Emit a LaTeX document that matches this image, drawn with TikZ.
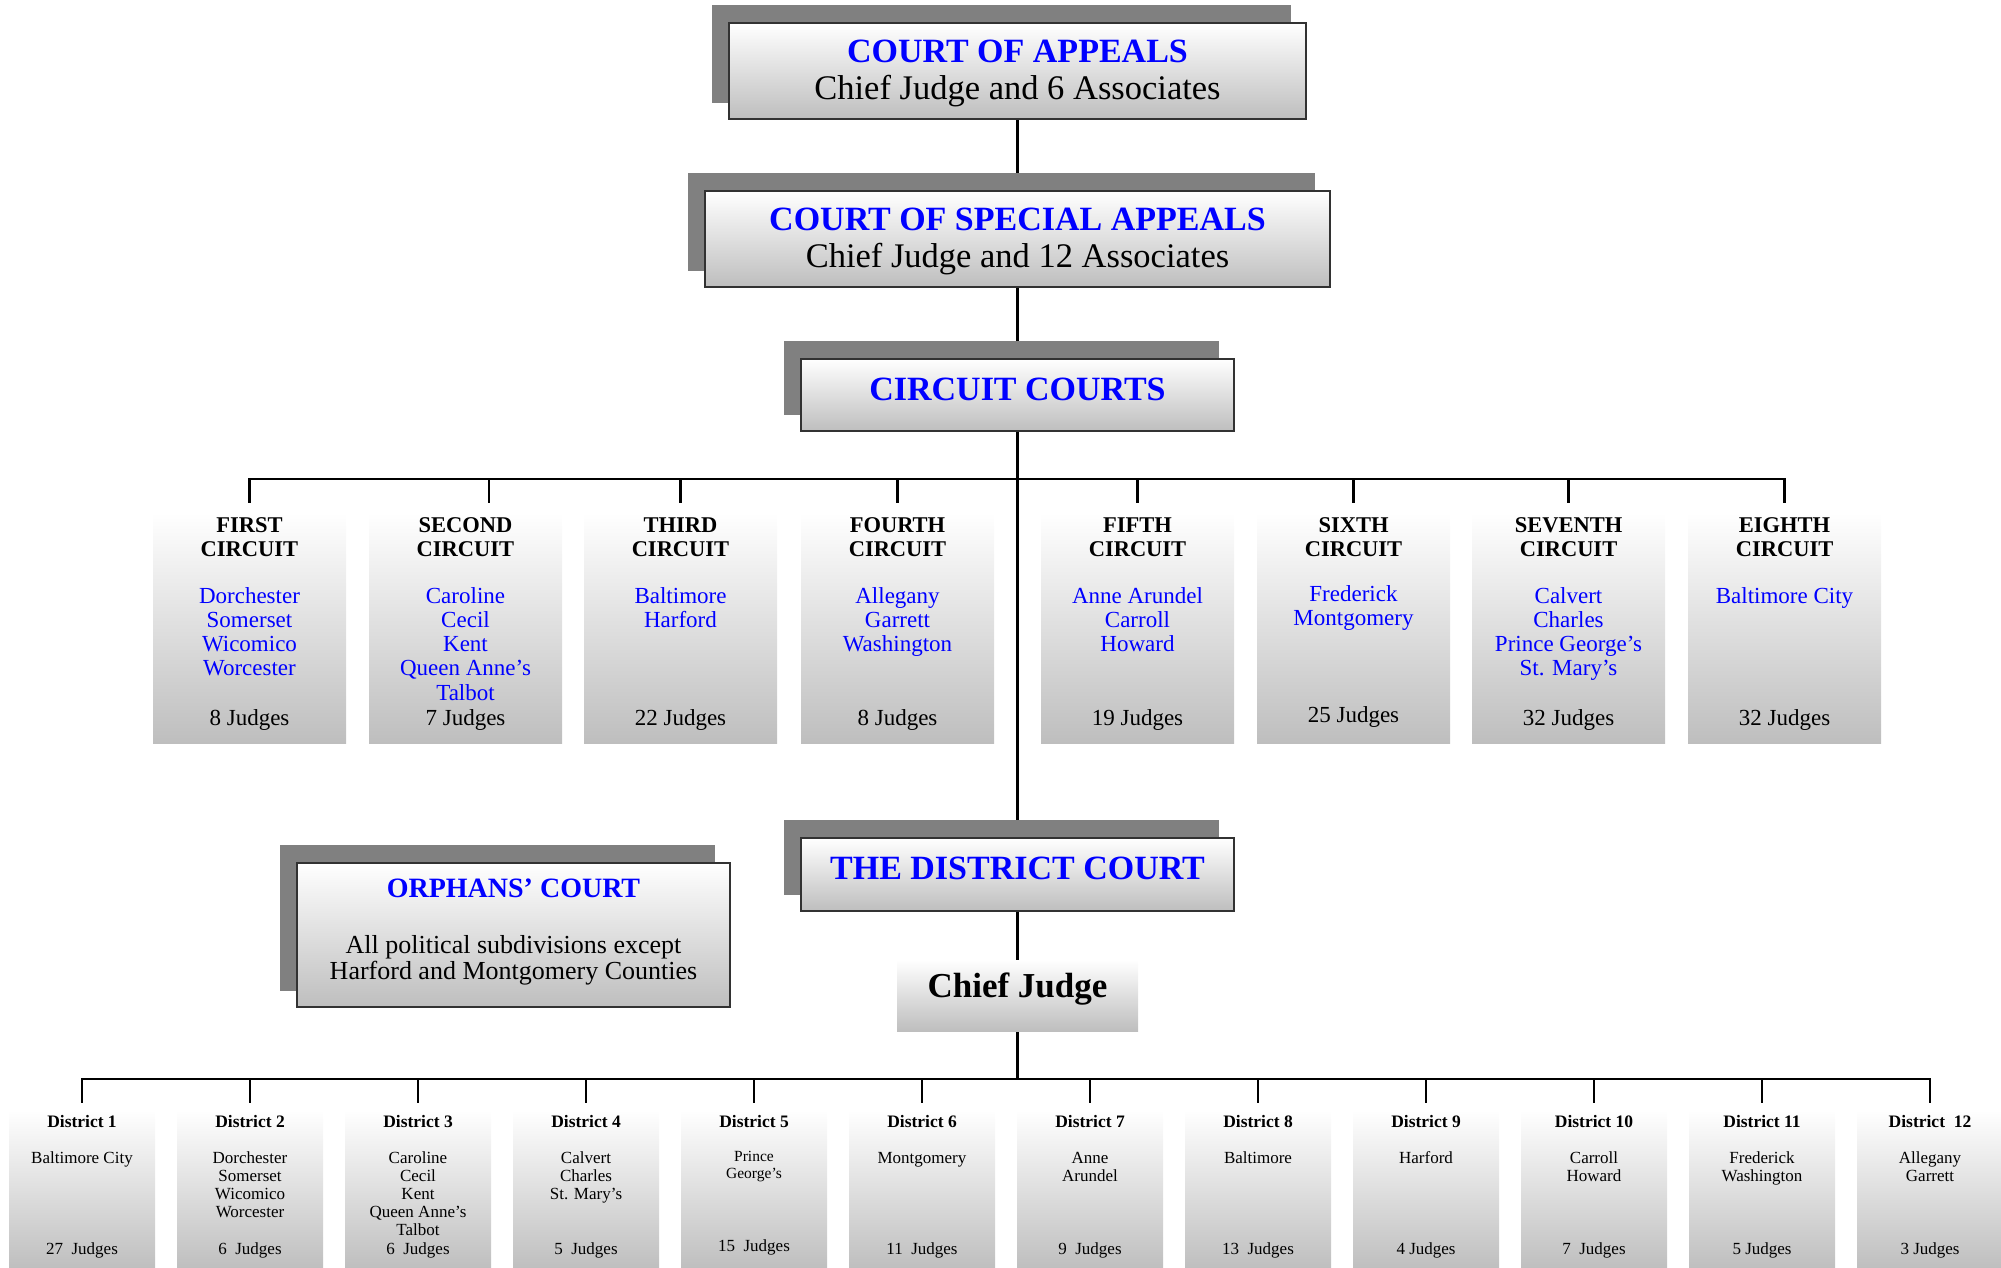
\documentclass[tikz,border=0pt]{standalone}
\usepackage{fontspec}
\setmainfont{Liberation Serif}
\usetikzlibrary{calc}
\pgfdeclarelayer{linelayer}
\pgfdeclarelayer{shadowlayer}
\pgfsetlayers{linelayer,shadowlayer,main}
\definecolor{shadowgray}{RGB}{128,128,128}
\definecolor{boxbot}{RGB}{190,190,190}
\definecolor{ttlblue}{RGB}{0,0,255}
\definecolor{edgec}{RGB}{50,50,50}
\tikzset{
 grad/.style={top color=white, bottom color=boxbot, inner sep=0pt},
 courtbox/.style={grad, draw=edgec, line width=1.6pt},
 link/.style={line width=2.4pt, draw=black},
 lbl/.style={inner sep=0pt, anchor=base, align=center},
 ttl/.style={lbl, text=ttlblue, font=\bfseries\fontsize{34}{37}\selectfont},
 subttl/.style={lbl, font=\fontsize{34.5}{37}\selectfont},
 chead/.style={lbl, font=\bfseries\fontsize{22.5}{24}\selectfont},
 ccty/.style={lbl, text=ttlblue, font=\fontsize{23}{24.3}\selectfont},
 cjdg/.style={lbl, font=\fontsize{23}{24.3}\selectfont},
 dhead/.style={lbl, font=\bfseries\fontsize{17.5}{18}\selectfont},
 dtxt/.style={lbl, font=\fontsize{17}{18}\selectfont},
}
\begin{document}
\begin{tikzpicture}[x=1pt,y=-1pt]
\useasboundingbox (0,0) rectangle (2001,1267);

% upper courts
\node[courtbox, minimum width=577pt, minimum height=96pt] (coa) at (1017.5,71) {};
\node[ttl] (coat) at (1017.5,62) {COURT OF APPEALS};
\node[subttl] (coas) at (1017.5,99) {Chief Judge and 6 Associates};

\node[courtbox, minimum width=625pt, minimum height=96pt] (csa) at (1017.5,239) {};
\node[ttl] (csat) at (1017.5,230) {COURT OF SPECIAL APPEALS};
\node[subttl] (csas) at (1017.5,267) {Chief Judge and 12 Associates};

\node[courtbox, minimum width=433pt, minimum height=72pt] (cc) at (1017.5,395) {};
\node[ttl] (cct) at (1017.5,400) {CIRCUIT COURTS};

\node[courtbox, minimum width=433pt, minimum height=73pt] (dc) at (1017.5,874.5) {};
\node[ttl] (dct) at (1017.5,879) {THE DISTRICT COURT};

\node[grad, minimum width=241pt, minimum height=71pt] (cj) at (1017.5,995.5) {};
\node[lbl, font=\bfseries\fontsize{35}{37}\selectfont] (cjt) at (1017.5,997) {Chief Judge};

\node[courtbox, minimum width=433pt, minimum height=144pt] (oc) at (513.5,935) {};
\node[lbl, text=ttlblue, font=\bfseries\fontsize{28}{30}\selectfont] (oct) at (513.5,897) {ORPHANS' COURT};
\node[lbl, font=\fontsize{26}{26}\selectfont] (ocs) at (513.5,979) {All political subdivisions except\\Harford and Montgomery Counties};

% circuits (y values are baselines of the last line)
\foreach \i/\cx/\hd/\ct/\jd/\cy/\jy in {
 1/249.5/FIRST/{Dorchester\\Somerset\\Wicomico\\Worcester}/8 Judges/675.9/725,
 2/465.5/SECOND/{Caroline\\Cecil\\Kent\\Queen Anne's\\Talbot}/7 Judges/700.2/725,
 3/680.5/THIRD/{Baltimore\\Harford}/22 Judges/627.3/725,
 4/897.5/FOURTH/{Allegany\\Garrett\\Washington}/8 Judges/651.6/725,
 5/1137.5/FIFTH/{Anne Arundel\\Carroll\\Howard}/19 Judges/651.6/725,
 6/1353.5/SIXTH/{Frederick\\Montgomery}/25 Judges/625.3/722.5,
 7/1568.5/SEVENTH/{Calvert\\Charles\\Prince George's\\St. Mary's}/32 Judges/675.9/725,
 8/1784.5/EIGHTH/{Baltimore City}/32 Judges/603/725}
{
 \node[grad, minimum width=193pt, minimum height=230pt] (c\i) at (\cx,628) {};
 \node[chead] (c\i-h) at (\cx,556) {\hd\\CIRCUIT};
 \node[ccty] (c\i-c) at (\cx,\cy) {\ct};
 \node[cjdg] (c\i-j) at (\cx,\jy) {\jd};
}

% districts (y values are baselines of the last line)
\foreach \i/\hd/\ct/\jd/\fs/\ls/\cy/\jy in {
 1/District 1/{Baltimore City}/27\ \ Judges/17/18/1163/1254,
 2/District 2/{Dorchester\\Somerset\\Wicomico\\Worcester}/6\ \ Judges/17/18/1217/1254,
 3/District 3/{Caroline\\Cecil\\Kent\\Queen Anne's\\Talbot}/6\ \ Judges/17/18/1235/1254,
 4/District 4/{Calvert\\Charles\\St. Mary's}/5\ \ Judges/17/18/1199/1254,
 5/District 5/{Prince\\George's}/15\ \ Judges/15.5/17/1178/1251,
 6/District 6/{Montgomery}/11\ \ Judges/17/18/1163/1254,
 7/District 7/{Anne\\Arundel}/9\ \ Judges/17/18/1181/1254,
 8/District 8/{Baltimore}/13\ \ Judges/17/18/1163/1254,
 9/District 9/{Harford}/4 Judges/17/18/1163/1254,
 10/District 10/{Carroll\\Howard}/7\ \ Judges/17/18/1181/1254,
 11/District 11/{Frederick\\Washington}/5 Judges/17/18/1181/1254,
 12/District\ \ 12/{Allegany\\Garrett}/3 Judges/17/18/1181/1254}
{
 \pgfmathsetmacro\dx{82+168*(\i-1)}
 \node[grad, minimum width=146pt, minimum height=160pt] (d\i) at (\dx,1190) {};
 \node[dhead] (d\i-h) at (\dx,1127) {\hd};
 \node[lbl, font=\fontsize{\fs}{\ls}\selectfont] (d\i-c) at (\dx,\cy) {\ct};
 \node[dtxt] (d\i-j) at (\dx,\jy) {\jd};
}

\coordinate (cbusR) at (1784.5,479);
\coordinate (c2tick) at (489,503);
\coordinate (dbusR) at (1930,1079);

\begin{pgfonlayer}{shadowlayer}
\foreach \nd in {coa,csa,cc,dc,oc}
  \fill[shadowgray] ([shift={(-16,-17)}]\nd.north west) rectangle ([shift={(-16,-17)}]\nd.south east);
\end{pgfonlayer}

\begin{pgfonlayer}{linelayer}
\draw[link] (coa.south) -- (csa.north);
\draw[link] (csa.south) -- (cc.north);
\draw[link] (cc.south) -- (dc.north);
\draw[link] (dc.south) -- (cj.north);
\draw[link] (cj.south) -- (cj.south |- dbusR);
% circuit bus
\draw[link] ([yshift=10pt]c1.north) |- (cbusR) -- ([yshift=10pt]c8.north);
\draw[link] (c2tick |- cbusR) -- (c2tick);
\foreach \i in {3,4,5,6,7}
  \draw[link] (c\i.north |- cbusR) -- ([yshift=10pt]c\i.north);
% district bus
\draw[link] ([yshift=7pt]d1.north) |- (dbusR) -- ([yshift=7pt]d12.north);
\foreach \i in {2,...,11}
  \draw[link] (d\i.north |- dbusR) -- ([yshift=7pt]d\i.north);
\end{pgfonlayer}
\end{tikzpicture}
\end{document}
